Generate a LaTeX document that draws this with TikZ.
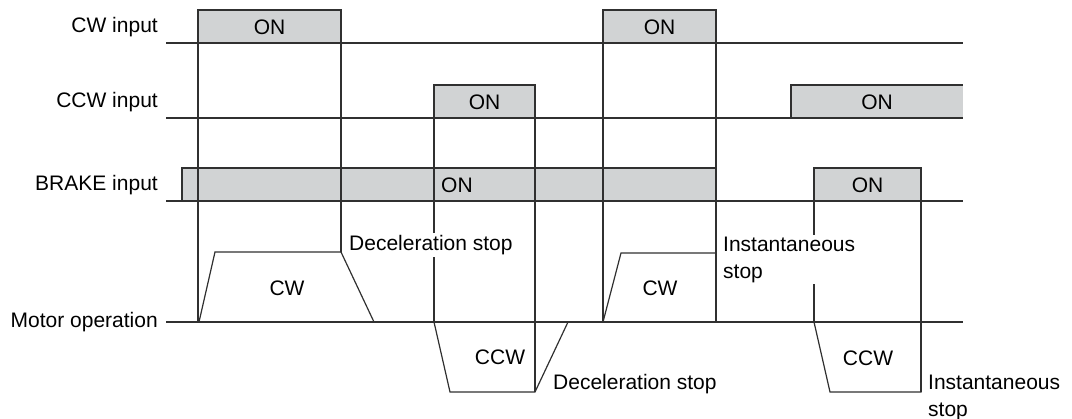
\documentclass[tikz,border=0pt]{standalone}
\usepackage{fontspec}
\setmainfont{Liberation Sans}
\usetikzlibrary{positioning}

\definecolor{ongray}{HTML}{D1D3D4}
\definecolor{linegray}{HTML}{303030}

\begin{document}
\begin{tikzpicture}[x=1pt, y=-1pt, font=\fontsize{21}{27}\selectfont,
    sigline/.style={draw=linegray, line width=1.2pt},
    onbox/.style={fill=ongray},
    siglbl/.style={anchor=east, inner sep=0pt},
    note/.style={anchor=west, fill=white, inner sep=2pt, align=left}]

    \useasboundingbox (0,0) rectangle (1072,419);

    % --- Jelnevek es alapvonalak ---
    \foreach \nm/\yb/\txt in {cw/43/CW input, ccw/118/CCW input, brake/201/BRAKE input} {
        \node[siglbl] (\nm lbl) at (158,\yb-16) {\txt};
        \coordinate (\nm0) at (166,\yb);
        \coordinate (\nm1) at (963,\yb);
    }
    \node[siglbl] (motorlbl) at (158,322) {Motor operation};
    \coordinate (motor0) at (166,322);
    \coordinate (motor1) at (963,322);

    % --- ON szakaszok (kitoltes) ---
    \foreach \xa/\xb/\yt/\yb in {198/341/10/43, 603/716/10/43, 434/535/85/118, 791/963/85/118, 182/716/168/201, 814/921/168/201}
        \fill[onbox] (\xa,\yt) rectangle (\xb,\yb);

    % --- ON szakaszok (keret) ---
    \foreach \xa/\xb/\yt/\yb in {198/341/10/43, 603/716/10/43, 434/535/85/118, 182/716/168/201, 814/921/168/201}
        \draw[sigline] (\xa,\yb) |- (\xb,\yt) -- (\xb,\yb);
    \draw[sigline] (791,118) |- (963,85);

    \foreach \nm in {cw, ccw, brake, motor}
        \draw[sigline] (\nm0) -- (\nm1);

    % --- Fuggoleges segedvonalak ---
    \foreach \x/\ya/\yb in {198/10/322, 341/10/252, 434/85/322, 535/85/392, 603/10/322, 716/10/322, 814/168/322, 921/168/392}
        \draw[sigline] (\x,\ya) -- (\x,\yb);

    % --- ON feliratok ---
    \node (on1) at (269.5,27) {ON};
    \node (on2) at (659.5,27) {ON};
    \node (on3) at (484.5,102) {ON};
    \node (on4) at (877,102) {ON};
    \node[anchor=west, inner sep=0pt] (on5) at (441,185) {ON};
    \node (on6) at (867.5,185) {ON};

    % --- Motor mukodes profilok ---
    \draw[sigline] (199,322) -- (215,252) -- (341,252) -- (374,322);
    \draw[sigline] (434,322) -- (450,392) -- (535,392) -- (568,322);
    \draw[sigline] (603,322) -- (621,253) -- (716,253) -- (716,322);
    \draw[sigline] (814,322) -- (830,392) -- (921,392) -- (921,322);

    \node (cw1) at (287,288) {CW};
    \node (ccw1) at (500,357) {CCW};
    \node (cw2) at (660,288) {CW};
    \node (ccw2) at (868,358) {CCW};

    % --- Megallasi modok ---
    \node[note] (dec1) at (347,245) {Deceleration stop};
    \node[note] (inst1) at (721,259.5) {Instantaneous\\stop};
    \node[note] (dec2) at (551,384) {Deceleration stop};
    \node[note] (inst2) at (926,398) {Instantaneous\\stop};

\end{tikzpicture}
\end{document}
